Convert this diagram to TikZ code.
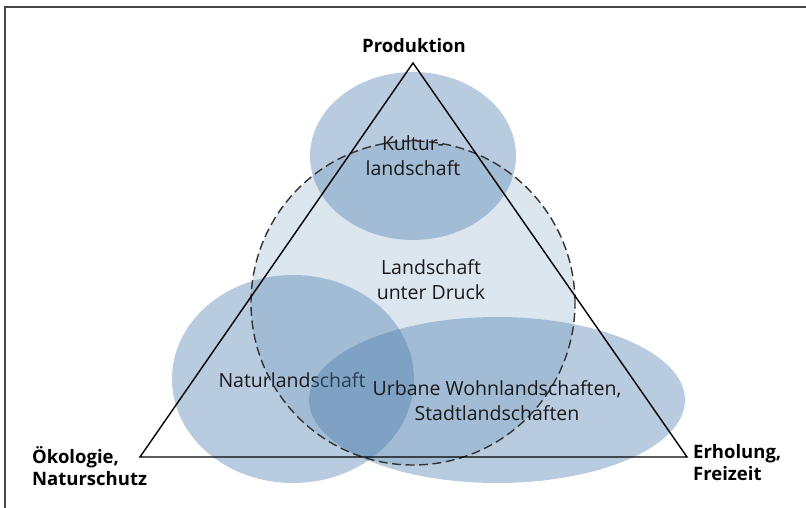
\documentclass[tikz,border=0pt]{standalone}
\usepackage{fontspec}
\setmainfont{Open Sans}
\usepackage{tikz}
\usetikzlibrary{positioning}
\definecolor{landblue}{RGB}{70,120,170}
\definecolor{framegray}{RGB}{70,70,70}

\begin{document}
\begin{tikzpicture}[x=1pt,y=-1pt,
  zone/.style={fill=landblue, fill opacity=0.38},
  pole/.style={font=\bfseries\fontsize{18.5}{22}\selectfont, align=left, inner sep=0pt},
  area/.style={font=\fontsize{19.5}{25}\selectfont, align=center, text=black!90, inner sep=0pt}]
\useasboundingbox (0,0) rectangle (806,508);

% Frame
\draw[framegray, line width=2pt] (5,508) -- (5,7.5) -- (806,7.5);

% Landscape under pressure
\fill[landblue, fill opacity=0.19] (413,303) circle (162pt);

% Overlapping landscapes
\fill[zone] (413,156) ellipse [x radius=103pt, y radius=84pt];
\fill[zone] (293,379) ellipse [x radius=121pt, y radius=104pt];
\node[area] (natur) at (292,380) {Naturlandschaft};
\fill[zone] (497,400) ellipse [x radius=188pt, y radius=83pt];
\draw[black!80, line width=1.4pt, dash pattern=on 9pt off 4.5pt] (413,303) circle (162pt);

% Triangle of uses
\coordinate (top) at (413,63);
\coordinate (left) at (140,457);
\coordinate (right) at (687,457);
\draw[line width=1.4pt, line join=miter] (top) -- (left) -- (right) -- cycle;

\node[pole, anchor=center] (prod) at (414,46) {Produktion};
\node[pole, anchor=west] (oeko) at (32,466) {Ökologie,\\Naturschutz};
\node[pole, anchor=west] (erho) at (693,463) {Erholung,\\Freizeit};

\node[area] (kultur) at (413,156) {Kultur-\\landschaft};
\node[area] (druck) at (431,280) {Landschaft\\unter Druck};
\node[area] (urban) at (497,401) {Urbane Wohnlandschaften,\\Stadtlandschaften};

\end{tikzpicture}
\end{document}
